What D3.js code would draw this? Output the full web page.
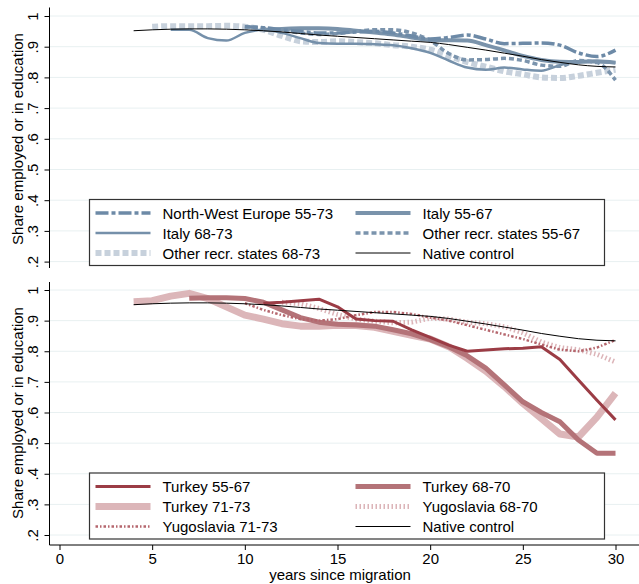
<!DOCTYPE html>
<html>
<head>
<meta charset="utf-8">
<script src="https://cdn.jsdelivr.net/npm/d3@7"></script>
<style>
  html, body { margin: 0; padding: 0; background: #fff; }
  svg { display: block; font-family: "Liberation Sans", Arial, sans-serif; }
</style>
</head>
<body>
<svg id="chart" width="639" height="584"></svg>
<script>
// Years since migration
const years = d3.range(0, 31);

// Native control (same in both panels)
const nativeYears = d3.range(4, 31);
const nativeControl = [0.952, 0.955, 0.957, 0.958, 0.958, 0.957, 0.955, 0.952, 0.948, 0.943, 0.938, 0.934,
  0.930, 0.926, 0.922, 0.918, 0.914, 0.907, 0.898, 0.889, 0.879, 0.869, 0.858, 0.849, 0.841, 0.836, 0.834];

// Top panel series
const nweYears = d3.range(10, 31);
const nwe = [0.965, 0.962, 0.955, 0.950, 0.945, 0.945, 0.948, 0.950, 0.945, 0.935, 0.925, 0.930, 0.938, 0.925,
  0.910, 0.911, 0.912, 0.905, 0.880, 0.868, 0.889];

const italy5567Years = d3.range(11, 31);
const italy5567 = [0.955, 0.958, 0.960, 0.960, 0.958, 0.952, 0.946, 0.940, 0.930, 0.922, 0.921, 0.920, 0.905,
  0.888, 0.870, 0.857, 0.851, 0.850, 0.853, 0.848];

const italy6873Years = d3.range(6, 31);
const italy6873 = [0.955, 0.955, 0.928, 0.920, 0.945, 0.955, 0.945, 0.928, 0.912, 0.910, 0.910, 0.908, 0.905,
  0.895, 0.880, 0.855, 0.832, 0.825, 0.832, 0.826, 0.822, 0.840, 0.851, 0.850, 0.848];

const other5567Years = d3.range(10, 31);
const other5567 = [0.965, 0.960, 0.952, 0.945, 0.940, 0.943, 0.950, 0.955, 0.955, 0.945, 0.920, 0.878, 0.857,
  0.858, 0.862, 0.855, 0.840, 0.836, 0.855, 0.848, 0.791];

const other6873Years = d3.range(5, 31);
const other6873 = [0.965, 0.967, 0.967, 0.967, 0.968, 0.965, 0.955, 0.935, 0.918, 0.915, 0.918, 0.915, 0.911,
  0.905, 0.900, 0.890, 0.870, 0.850, 0.835, 0.820, 0.810, 0.800, 0.798, 0.805, 0.815, 0.825];

// Bottom panel series
const turkey5567Years = d3.range(11, 31);
const turkey5567 = [0.957, 0.960, 0.965, 0.970, 0.945, 0.905, 0.900, 0.898, 0.870, 0.845, 0.820, 0.800, 0.804,
  0.808, 0.810, 0.815, 0.773, 0.706, 0.640, 0.576];

const turkey6870Years = d3.range(7, 31);
const turkey6870 = [0.973, 0.975, 0.975, 0.972, 0.960, 0.935, 0.910, 0.895, 0.888, 0.886, 0.882, 0.870, 0.857,
  0.838, 0.815, 0.785, 0.745, 0.690, 0.635, 0.600, 0.570, 0.510, 0.467, 0.467];

const turkey7173Years = d3.range(4, 31);
const turkey7173 = [0.962, 0.965, 0.980, 0.989, 0.972, 0.945, 0.918, 0.905, 0.890, 0.882, 0.882, 0.885, 0.884,
  0.878, 0.865, 0.852, 0.840, 0.815, 0.777, 0.735, 0.685, 0.630, 0.580, 0.530, 0.520, 0.585, 0.663];

const yugo6870Years = d3.range(12, 31);
const yugo6870 = [0.960, 0.955, 0.940, 0.920, 0.905, 0.898, 0.893, 0.895, 0.908, 0.905, 0.895, 0.890, 0.880,
  0.860, 0.830, 0.812, 0.805, 0.790, 0.765];

const yugo7173Years = d3.range(10, 31);
const yugo7173 = [0.957, 0.935, 0.918, 0.905, 0.900, 0.905, 0.918, 0.928, 0.928, 0.922, 0.910, 0.900, 0.885,
  0.870, 0.855, 0.840, 0.822, 0.805, 0.800, 0.812, 0.837];

// Axis ticks
const yTicks = [0.2, 0.3, 0.4, 0.5, 0.6, 0.7, 0.8, 0.9, 1];
const yTickLabels = [".2", ".3", ".4", ".5", ".6", ".7", ".8", ".9", "1"];
const xTicks = [0, 5, 10, 15, 20, 25, 30];

const yLabel = "Share employed or in education";
const xLabel = "years since migration";

// Series definitions with styles
const topSeries = [
  { name: "North-West Europe 55-73", x: nweYears, y: nwe, color: "#6d8aa7", width: 3.5, dash: "13,3,4,3" },
  { name: "Italy 55-67", x: italy5567Years, y: italy5567, color: "#7a93ab", width: 4, dash: null },
  { name: "Italy 68-73", x: italy6873Years, y: italy6873, color: "#7590aa", width: 2.5, dash: null },
  { name: "Other recr. states 55-67", x: other5567Years, y: other5567, color: "#7b94ad", width: 3.5, dash: "5,3" },
  { name: "Other recr. states 68-73", x: other6873Years, y: other6873, color: "#c7d1dc", width: 6, dash: "6,3" },
  { name: "Native control", x: nativeYears, y: nativeControl, color: "#000", width: 1, dash: null }
];
const topDrawOrder = [4, 2, 1, 3, 0, 5];

const bottomSeries = [
  { name: "Turkey 55-67", x: turkey5567Years, y: turkey5567, color: "#9b3c45", width: 3, dash: null },
  { name: "Turkey 68-70", x: turkey6870Years, y: turkey6870, color: "#b47378", width: 5, dash: null },
  { name: "Turkey 71-73", x: turkey7173Years, y: turkey7173, color: "#dcb6b9", width: 7, dash: null },
  { name: "Yugoslavia 68-70", x: yugo6870Years, y: yugo6870, color: "#dcb4b8", width: 5, dash: "1.5,2.5" },
  { name: "Yugoslavia 71-73", x: yugo7173Years, y: yugo7173, color: "#b5666d", width: 2.5, dash: "2.5,2,1.5,2" },
  { name: "Native control", x: nativeYears, y: nativeControl, color: "#000", width: 1, dash: null }
];
const bottomDrawOrder = [2, 3, 1, 4, 0, 5];

const svg = d3.select("#chart");
const W = 639;
const axisX = 49.5;

const x = d3.scaleLinear().domain([0, 30]).range([59.5, 615.5]);

function panel(cfg) {
  const y = d3.scaleLinear().domain([0.2, 1]).range([cfg.yBottom, cfg.yTop]);
  const g = svg.append("g");

  // gridlines
  g.append("g").selectAll("line").data(yTicks).join("line")
    .attr("x1", axisX).attr("x2", W)
    .attr("y1", d => y(d)).attr("y2", d => y(d))
    .attr("stroke", "#e8f0f1").attr("stroke-width", 1);

  // y axis
  const yAxis = d3.axisLeft(y).tickValues(yTicks).tickSize(5)
    .tickFormat((d, i) => yTickLabels[i]);
  const ya = g.append("g").attr("transform", `translate(${axisX},0)`).call(yAxis);
  ya.select(".domain").attr("d", `M-5,${cfg.axisTop}H0V${cfg.axisBottom}`).attr("stroke", "#000");
  ya.selectAll(".tick line").attr("stroke", "#000");
  ya.selectAll(".tick text")
    .attr("font-size", 15).attr("fill", "#000")
    .attr("text-anchor", "middle")
    .attr("x", null).attr("dy", null)
    .attr("transform", "translate(-12,0) rotate(-90)");
  ya.select(".domain").attr("d", `M0,${cfg.axisTop}V${cfg.axisBottom}`);

  // y label
  g.append("text")
    .attr("transform", `translate(23,${cfg.labelY}) rotate(-90)`)
    .attr("text-anchor", "middle").attr("font-size", 15).attr("fill", "#000")
    .text(yLabel);

  // lines
  const lineGen = d3.line().curve(cfg.curve);
  cfg.order.forEach(i => {
    const s = cfg.series[i];
    const pts = s.x.map((xv, k) => [x(xv), y(s.y[k])]);
    g.append("path")
      .attr("d", lineGen(pts))
      .attr("fill", "none")
      .attr("stroke", s.color)
      .attr("stroke-width", s.width)
      .attr("stroke-dasharray", s.dash)
      .attr("stroke-linejoin", "round");
  });

  // legend
  const lg = g.append("g").attr("transform", `translate(${cfg.legX},${cfg.legY})`);
  lg.append("rect").attr("width", cfg.legW).attr("height", cfg.legH)
    .attr("fill", "#fff").attr("stroke", "#333").attr("stroke-width", 1.2);
  cfg.series.forEach((s, i) => {
    const col = i % 2, row = Math.floor(i / 2);
    const cx = col === 0 ? 6 : 266;
    const cy = 13.5 + row * 20;
    lg.append("line")
      .attr("x1", cx).attr("x2", cx + 55).attr("y1", cy).attr("y2", cy)
      .attr("stroke", s.color).attr("stroke-width", s.width)
      .attr("stroke-dasharray", s.dash);
    lg.append("text")
      .attr("x", cx + 67).attr("y", cy + 5.5)
      .attr("font-size", 15).attr("fill", "#000")
      .text(s.name);
  });
  return y;
}

panel({
  yTop: 16, yBottom: 261.6, axisTop: 7.5, axisBottom: 268,
  labelY: 139, series: topSeries, order: topDrawOrder, curve: d3.curveMonotoneX,
  legX: 89.5, legY: 199.5, legW: 515, legH: 66
});

panel({
  yTop: 290, yBottom: 535, axisTop: 282, axisBottom: 545,
  labelY: 413, series: bottomSeries, order: bottomDrawOrder, curve: d3.curveLinear,
  legX: 89.5, legY: 473, legW: 515, legH: 66
});

// x axis (bottom panel)
const xa = svg.append("g").attr("transform", "translate(0,545)")
  .call(d3.axisBottom(x).tickValues(xTicks).tickSize(5).tickPadding(3));
xa.select(".domain").attr("d", `M${axisX},0H${W}`).attr("stroke", "#000");
xa.selectAll(".tick line").attr("stroke", "#000");
xa.selectAll(".tick text").attr("font-size", 15).attr("fill", "#000").attr("font-family", null);
xa.attr("font-family", null);

svg.append("text")
  .attr("x", 340).attr("y", 580)
  .attr("text-anchor", "middle").attr("font-size", 15).attr("fill", "#000")
  .text(xLabel);
</script>
</body>
</html>
